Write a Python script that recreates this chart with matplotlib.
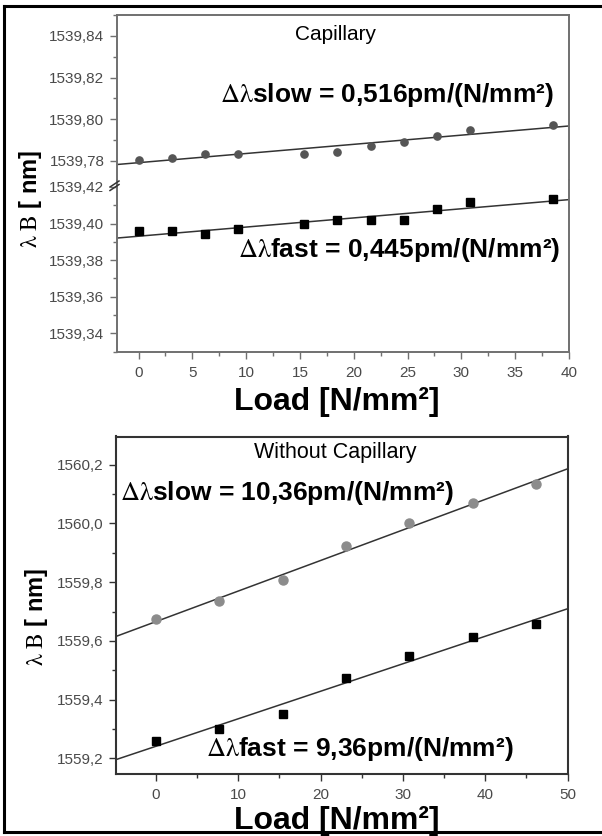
import numpy as np
import matplotlib.pyplot as plt
from matplotlib.ticker import MultipleLocator, FuncFormatter
from matplotlib.lines import Line2D

plt.rcParams["font.family"] = ["Liberation Sans", "DejaVu Sans"]
plt.rcParams["mathtext.fontset"] = "stix"

# with capillary (broken y axis)
load_cap = [0, 3.08, 6.16, 9.24, 15.4, 18.48, 21.56, 24.64, 27.72, 30.8, 38.5]
slow_cap = [1539.7803, 1539.7813, 1539.7832, 1539.7832, 1539.7832, 1539.7842,
            1539.7871, 1539.7892, 1539.7920, 1539.7948, 1539.7972]
fast_cap = [1539.3960, 1539.3960, 1539.3945, 1539.3971, 1539.3996, 1539.4018,
            1539.4018, 1539.4018, 1539.4078, 1539.4118, 1539.4136]

# without capillary
load_free = [0, 7.7, 15.4, 23.1, 30.8, 38.5, 46.2]
slow_free = [1559.673, 1559.735, 1559.809, 1559.922, 1560.002, 1560.068, 1560.134]
fast_free = [1559.260, 1559.299, 1559.351, 1559.475, 1559.548, 1559.614, 1559.657]

W, H = 602, 836


def fx(x):
    return x / W


def fy(y):
    return 1 - y / H


def comma(fmt):
    return FuncFormatter(lambda v, p: format(v, fmt).replace(".", ","))


def style(ax, color, lw):
    for s in ax.spines.values():
        s.set_color(color)
        s.set_linewidth(lw)
    ax.tick_params(which="both", direction="out", color=color, width=1,
                   labelsize=11, labelcolor="#4a4a4a", top=False, right=False)
    ax.tick_params(which="major", length=5, pad=4)
    ax.tick_params(which="minor", length=3)


def fit(ax, x, y, xlim):
    coef = np.polyfit(x, y, 1)
    xs = np.array(xlim)
    ax.plot(xs, np.polyval(coef, xs), color="#333", lw=1.1, zorder=2)


fig = plt.figure(figsize=(W / 100, H / 100), dpi=100)

# --- top: capillary ---
xlim_cap = (-2, 40)
ax_hi = fig.add_axes([fx(117), fy(180.4), fx(569) - fx(117), (180.4 - 15) / H])
ax_lo = fig.add_axes([fx(117), fy(352), fx(569) - fx(117), (352 - 180.4) / H])
for ax in (ax_hi, ax_lo):
    style(ax, "#707070", 1.4)
    ax.set_xlim(*xlim_cap)
    ax.yaxis.set_major_locator(MultipleLocator(0.02))
    ax.yaxis.set_minor_locator(MultipleLocator(0.01))
    ax.yaxis.set_major_formatter(comma(".2f"))
    ax.xaxis.set_major_locator(MultipleLocator(5))
    ax.xaxis.set_minor_locator(MultipleLocator(2.5))

ax_hi.set_ylim(1539.7705, 1539.8501)
ax_lo.set_ylim(1539.3298, 1539.4236)
ax_hi.spines["bottom"].set_visible(False)
ax_lo.spines["top"].set_visible(False)
ax_hi.tick_params(which="both", bottom=False, labelbottom=False)
ax_lo.tick_params(axis="x", which="major", pad=5)

ax_hi.plot(load_cap, slow_cap, "o", color="#555", ms=5.2, zorder=3)
fit(ax_hi, load_cap, slow_cap, xlim_cap)
ax_lo.plot(load_cap, fast_cap, "s", color="black", ms=5.5, zorder=3)
fit(ax_lo, load_cap, fast_cap, xlim_cap)

# axis break marks
for dy in (0, 3.5):
    fig.add_artist(Line2D([fx(110), fx(119)], [fy(187 + dy), fy(181 + dy)],
                          color="#333", lw=1.1))

fig.text(fx(335), fy(34), "Capillary", fontsize=15, ha="center", va="center")
fig.text(fx(220), fy(102), r"$\mathrm{\Delta\lambda}$slow = 0,516pm/(N/mm²)",
         fontsize=19, fontweight="bold", va="baseline")
fig.text(fx(238), fy(257), r"$\mathrm{\Delta\lambda}$fast = 0,445pm/(N/mm²)",
         fontsize=19, fontweight="bold", va="baseline")
fig.text(fx(337), fy(410), "Load [N/mm²]", fontsize=23, fontweight="bold",
         ha="center", va="baseline")
fig.text(fx(30), fy(199), r"$\mathrm{\lambda\ B}$ [ nm]", fontsize=17,
         fontweight="bold", rotation=90, ha="center", va="center")

# --- bottom: without capillary ---
xlim_free = (-4.9, 50)
ax_b = fig.add_axes([fx(115.7), fy(774), fx(567.5) - fx(115.7), (774 - 436.5) / H])
style(ax_b, "#333", 1.5)
ax_b.set_xlim(*xlim_free)
ax_b.set_ylim(1559.147, 1560.296)
ax_b.xaxis.set_major_locator(MultipleLocator(10))
ax_b.xaxis.set_minor_locator(MultipleLocator(5))
ax_b.yaxis.set_major_locator(MultipleLocator(0.2))
ax_b.yaxis.set_minor_locator(MultipleLocator(0.1))
ax_b.yaxis.set_major_formatter(comma(".1f"))
ax_b.tick_params(axis="x", which="major", pad=5)

ax_b.plot(load_free, slow_free, "o", color="#8c8c8c", ms=6.5, zorder=3)
fit(ax_b, load_free, slow_free, xlim_free)
ax_b.plot(load_free, fast_free, "s", color="black", ms=5.8, zorder=3)
fit(ax_b, load_free, fast_free, xlim_free)

fig.text(fx(335), fy(452), "Without Capillary", fontsize=15.5, ha="center", va="center")
fig.text(fx(120), fy(500), r"$\mathrm{\Delta\lambda}$slow = 10,36pm/(N/mm²)",
         fontsize=19, fontweight="bold", va="baseline")
fig.text(fx(206), fy(756), r"$\mathrm{\Delta\lambda}$fast = 9,36pm/(N/mm²)",
         fontsize=19, fontweight="bold", va="baseline")
fig.text(fx(337), fy(829), "Load [N/mm²]", fontsize=23, fontweight="bold",
         ha="center", va="baseline")
fig.text(fx(37), fy(617), r"$\mathrm{\lambda\ B}$ [ nm]", fontsize=17,
         fontweight="bold", rotation=90, ha="center", va="center")

# outer frame (left, top, bottom edges)
for xs, ys in [([4, 4], [6, 832]), ([4, W], [6, 6]), ([4, W], [832, 832])]:
    fig.add_artist(Line2D([fx(x) for x in xs], [fy(y) for y in ys],
                          color="black", lw=2.2))

fig.savefig("out.png", dpi=100)
